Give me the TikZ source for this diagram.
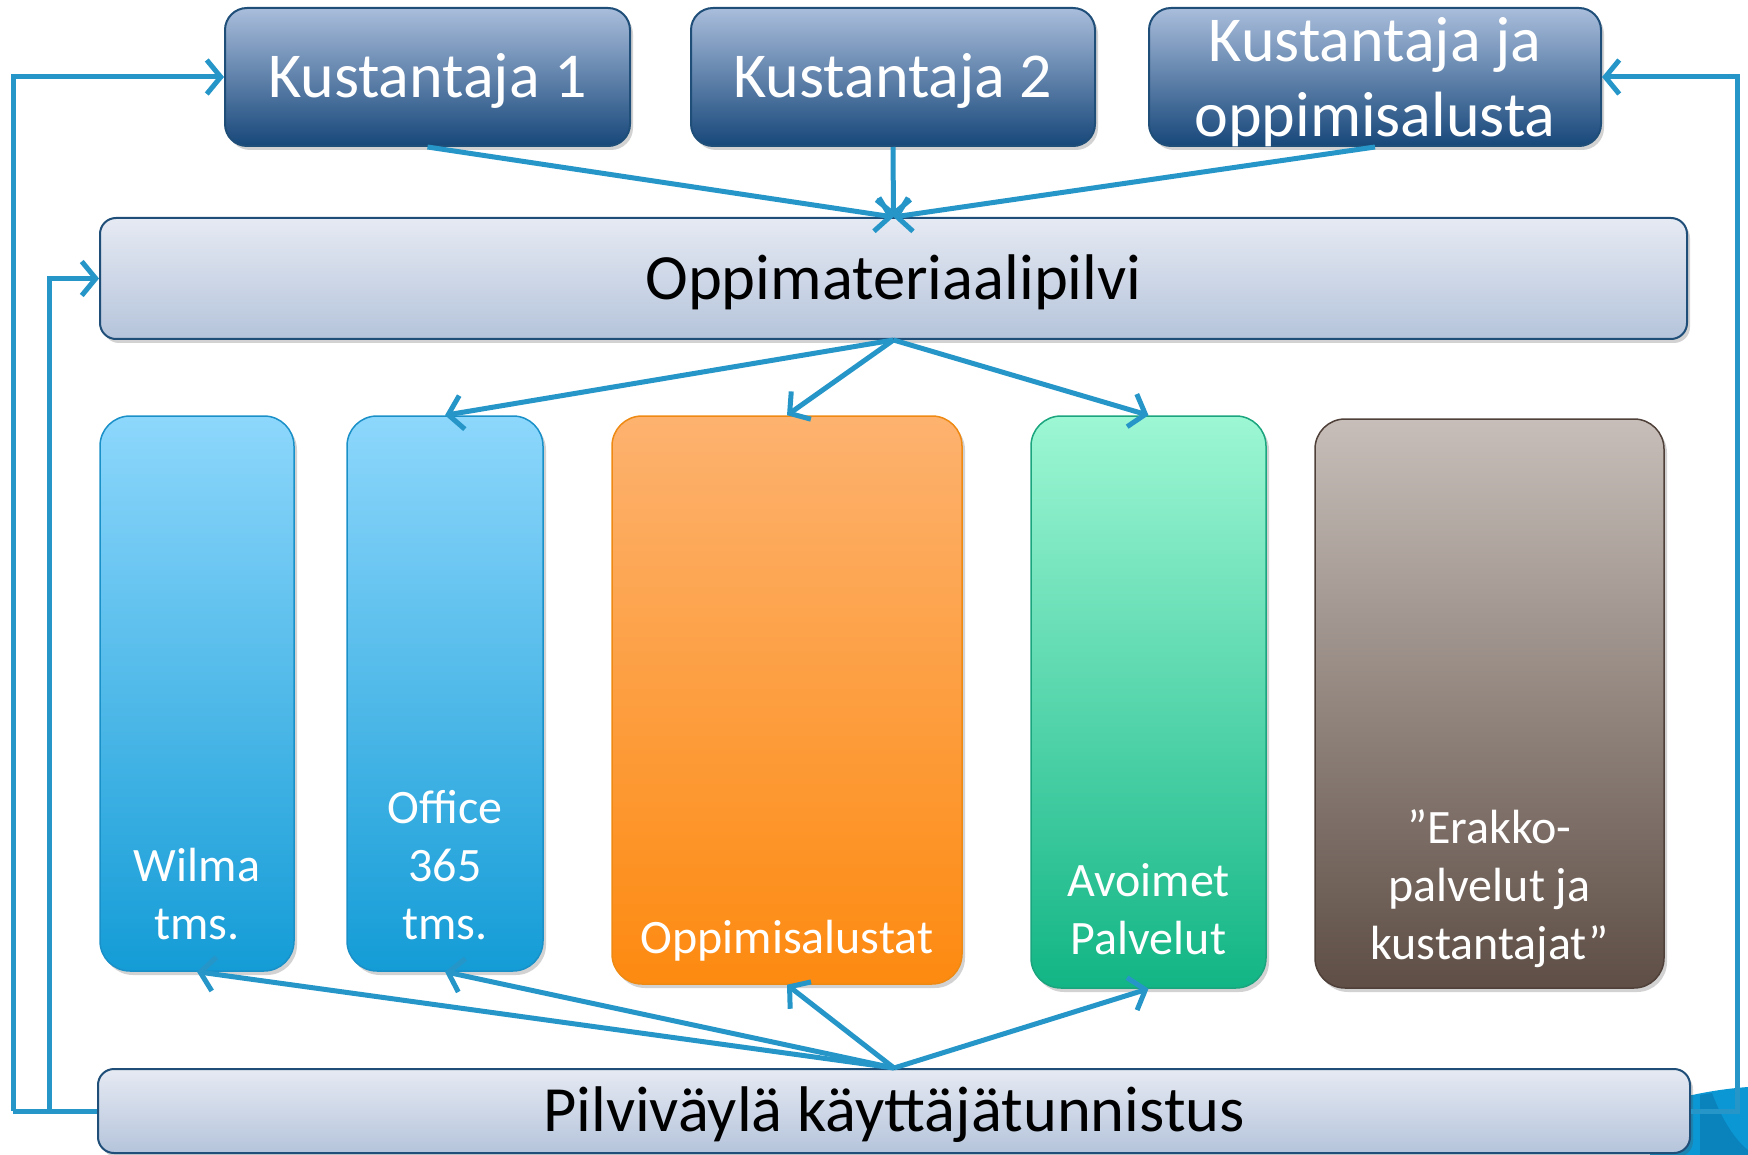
\documentclass[tikz,border=0pt]{standalone}
\usepackage{fontspec}
\setmainfont{Carlito}
\usetikzlibrary{arrows.meta,shadows}
\definecolor{lnc}{HTML}{2696C8}
\definecolor{kbord}{HTML}{1F4E79}
\definecolor{ktop}{HTML}{A9BDDB}
\definecolor{kmid}{HTML}{7E97BE}
\definecolor{kbot}{HTML}{17477A}
\definecolor{ptop}{HTML}{E6EAF3}
\definecolor{pbot}{HTML}{B5C4DB}
\definecolor{btop}{HTML}{8DD7FC}
\definecolor{bmid}{HTML}{56B7E8}
\definecolor{bbot}{HTML}{149CD6}
\definecolor{bbord}{HTML}{1A90C8}
\definecolor{otop}{HTML}{FDB26F}
\definecolor{obot}{HTML}{FD8A10}
\definecolor{obord}{HTML}{EE8A13}
\definecolor{gtop}{HTML}{9DF7D4}
\definecolor{gbot}{HTML}{12B585}
\definecolor{gbord}{HTML}{1AA57E}
\definecolor{rtop}{HTML}{C7BEB9}
\definecolor{rbot}{HTML}{5E4E45}
\definecolor{rbord}{HTML}{4F4039}
\definecolor{deco}{HTML}{0B97D4}
\definecolor{decod}{HTML}{0A82BC}
\newcommand{\lowr}[2]{\raisebox{-#1}[\height][\depth]{#2}}
\tikzset{
  shd/.style={drop shadow={shadow xshift=3pt,shadow yshift=-4pt,opacity=0.25,fill=black!70}},
  kbox/.style={shd,rounded corners=22pt,draw=kbord,line width=2pt,top color=ktop,middle color=kmid,bottom color=kbot,
    text=white,align=center,font=\fontsize{64}{75.5}\selectfont,inner sep=0pt},
  pbox/.style={shd,rounded corners=16pt,draw=kbord,line width=2pt,top color=ptop,bottom color=pbot,
    text=black,align=center,font=\fontsize{64.5}{74}\selectfont,inner sep=0pt},
  colbox/.style={shd,rounded corners=30pt,line width=1.5pt,inner sep=0pt},
  coltext/.style={text=white,align=center,font=\fontsize{48}{58}\selectfont,inner sep=0pt,anchor=south,text depth=0pt},
  conn/.style={draw=lnc,line width=5pt,-{Straight Barb[length=14pt,width=34pt]}},
  feed/.style={draw=lnc,line width=5pt},
}
\begin{document}
\begin{tikzpicture}[x=1pt,y=-1pt]
\useasboundingbox (0,0) rectangle (1748,1155);
% decoration bottom right
\fill[deco] (1650,1106) .. controls (1690,1094) and (1720,1089) .. (1748,1087) -- (1748,1155) -- (1650,1155) -- cycle;
\fill[decod] (1712,1093) .. controls (1722,1120) and (1735,1140) .. (1748,1150) -- (1748,1155) -- (1700,1155) -- (1700,1095) -- cycle;
% top row
\node[kbox,minimum width=405pt,minimum height=138pt] (k1) at (427.5,77) {\lowr{4pt}{Kustantaja 1}};
\node[kbox,minimum width=404pt,minimum height=138pt] (k2) at (893,77) {\lowr{4pt}{Kustantaja 2}};
\node[kbox,minimum width=452pt,minimum height=138pt] (k3) at (1375,77) {\lowr{5pt}{\parbox{452pt}{\centering Kustantaja ja\\oppimisalusta}}};
% cloud bars
\node[pbox,minimum width=1587pt,minimum height=121pt] (op) at (893.5,278.5) {\lowr{3.5pt}{Oppimateriaalipilvi}};
\node[pbox,minimum width=1592pt,minimum height=84pt] (pv) at (894,1111) {\lowr{3.5pt}{Pilviväylä käyttäjätunnistus}};
% columns
\node[colbox,draw=bbord,top color=btop,middle color=bmid,bottom color=bbot,minimum width=194pt,minimum height=555pt] (wi) at (197,693.5) {};
\node[colbox,draw=bbord,top color=btop,middle color=bmid,bottom color=bbot,minimum width=196pt,minimum height=555pt] (of) at (445,693.5) {};
\node[colbox,draw=obord,top color=otop,bottom color=obot,minimum width=350pt,minimum height=568pt] (os) at (787,700) {};
\node[colbox,draw=gbord,top color=gtop,bottom color=gbot,minimum width=235pt,minimum height=572pt] (av) at (1148.5,702) {};
\node[colbox,draw=rbord,top color=rtop,bottom color=rbot,minimum width=349pt,minimum height=569pt] (er) at (1489.5,703.5) {};
\node[coltext] (wit) at (197,940) {Wilma\\tms.};
\node[coltext] (oft) at (445,940) {Office\\365\\tms.};
\node[coltext] (ost) at (787,954) {Oppimisalustat};
\node[coltext] (avt) at (1148.5,955) {Avoimet\\Palvelut};
\node[coltext] (ert) at (1489.5,960) {”Erakko-\\palvelut ja\\kustantajat”};
% connectors top
\draw[conn] (k1.south) -- (op.north);
\draw[conn] (k2.south) -- (op.north);
\draw[conn] (k3.south) -- (op.north);
\draw[conn] (op.south) -- (of.north);
\draw[conn] (op.south) -- (os.north);
\draw[conn] (op.south) -- (av.north);
% connectors bottom
\draw[conn] (pv.north) -- (wi.south);
\draw[conn] (pv.north) -- (of.south);
\draw[conn] (pv.north) -- (os.south);
\draw[conn] (pv.north) -- (av.south);
% feedback lines
\coordinate (lo) at (13,1111);
\coordinate (li) at (49,1111);
\coordinate (ro) at (1737,1111);
\draw[feed,line join=miter] (pv.west) -- (lo);
\draw[conn,line join=miter] (lo) |- (k1.west);
\draw[conn,line join=miter] (li) |- (op.west);
\draw[conn,line join=miter] (pv.east) -- (ro) |- (k3.east);
\end{tikzpicture}
\end{document}
